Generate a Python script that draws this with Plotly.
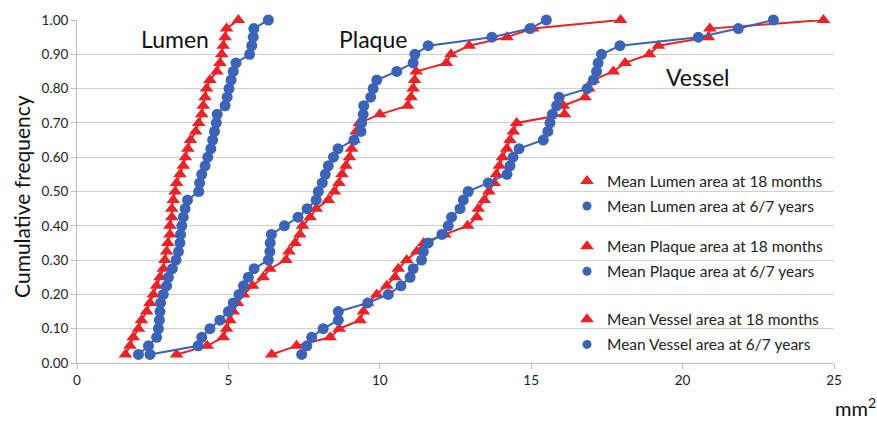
import plotly.graph_objects as go

# cumulative frequency levels
cum_freq = [0.025, 0.05, 0.075, 0.1, 0.125, 0.15, 0.175, 0.2, 0.225, 0.25,
            0.275, 0.3, 0.325, 0.35, 0.375, 0.4, 0.425, 0.45, 0.475, 0.5,
            0.525, 0.55, 0.575, 0.6, 0.625, 0.65, 0.675, 0.7, 0.725, 0.75,
            0.775, 0.8, 0.825, 0.85, 0.875, 0.9, 0.925, 0.95, 0.975, 1.0]

lumen_18m = [1.60, 1.75, 1.86, 2.03, 2.13, 2.30, 2.41, 2.52, 2.63, 2.74,
             2.85, 2.90, 2.96, 3.00, 3.07, 3.07, 3.13, 3.13, 3.18, 3.24,
             3.29, 3.40, 3.51, 3.58, 3.66, 3.75, 3.92, 4.02, 4.12, 4.17,
             4.23, 4.28, 4.39, 4.62, 4.72, 4.78, 4.83, 4.89, 4.94, 5.33]

lumen_6y = [2.03, 2.36, 2.63, 2.69, 2.72, 2.74, 2.76, 2.85, 2.96, 3.02,
            3.15, 3.27, 3.35, 3.40, 3.42, 3.46, 3.51, 3.57, 3.65, 4.02,
            4.05, 4.12, 4.23, 4.32, 4.42, 4.48, 4.54, 4.60, 4.63, 4.89,
            4.96, 5.02, 5.09, 5.16, 5.25, 5.70, 5.77, 5.82, 5.84, 6.32]

plaque_18m = [3.29, 4.30, 4.83, 4.94, 5.05, 5.16, 5.30, 5.50, 5.80, 6.15,
              6.37, 6.90, 7.00, 7.20, 7.36, 7.45, 7.70, 7.90, 8.30, 8.50,
              8.65, 8.75, 8.88, 9.00, 9.07, 9.15, 9.22, 9.33, 10.00, 10.92,
              11.03, 11.10, 11.15, 11.20, 12.20, 12.35, 12.95, 14.20, 15.05, 17.95]

plaque_6y = [2.41, 4.00, 4.12, 4.39, 4.72, 5.00, 5.16, 5.35, 5.50, 5.66,
             5.85, 6.32, 6.37, 6.38, 6.42, 6.85, 7.30, 7.60, 7.90, 7.97,
             8.10, 8.20, 8.30, 8.47, 8.62, 9.15, 9.38, 9.40, 9.45, 9.47,
             9.70, 9.78, 9.90, 10.56, 11.10, 11.16, 11.60, 13.70, 14.96, 15.50]

vessel_18m = [6.43, 7.25, 8.36, 8.66, 9.35, 9.46, 9.60, 9.90, 10.23, 10.50,
              10.61, 10.89, 11.22, 11.45, 12.15, 12.90, 13.20, 13.25, 13.45, 13.60,
              13.78, 13.85, 13.95, 14.05, 14.19, 14.30, 14.41, 14.52, 16.10, 16.06,
              16.78, 16.90, 17.05, 17.71, 18.10, 18.90, 19.20, 20.85, 20.90, 24.65]

vessel_6y = [7.42, 7.59, 7.75, 8.13, 8.63, 8.63, 9.60, 10.28, 10.70, 11.00,
             11.10, 11.38, 11.44, 11.60, 12.05, 12.26, 12.37, 12.65, 12.76, 12.92,
             13.58, 14.20, 14.30, 14.40, 14.60, 15.40, 15.55, 15.62, 15.70, 15.84,
             15.92, 16.85, 17.05, 17.16, 17.21, 17.32, 17.93, 20.52, 21.84, 23.00]

series_names = ["Mean Lumen area at 18 months", "Mean Lumen area at 6/7 years",
                "Mean Plaque area at 18 months", "Mean Plaque area at 6/7 years",
                "Mean Vessel area at 18 months", "Mean Vessel area at 6/7 years"]

x_ticks = [0, 5, 10, 15, 20, 25]
y_ticks = [0.0, 0.1, 0.2, 0.3, 0.4, 0.5, 0.6, 0.7, 0.8, 0.9, 1.0]

RED = "#ec2227"
BLUE = "#3b63b8"
FONT = "Lato, 'Open Sans', sans-serif"

series = [lumen_18m, lumen_6y, plaque_18m, plaque_6y, vessel_18m, vessel_6y]
legends = ["legend", "legend", "legend2", "legend2", "legend3", "legend3"]

fig = go.Figure()
for i, xs in enumerate(series):
    red = i % 2 == 0
    col = RED if red else BLUE
    sym = "triangle-up" if red else "circle"
    fig.add_trace(go.Scatter(
        x=xs, y=cum_freq, mode="lines+markers",
        line=dict(color=col, width=2),
        marker=dict(color=col, symbol=sym, size=12 if red else 11),
        showlegend=False, cliponaxis=False, hoverinfo="skip"))
for i, name in enumerate(series_names):
    red = i % 2 == 0
    col = RED if red else BLUE
    sym = "triangle-up" if red else "circle"
    fig.add_trace(go.Scatter(
        x=[None], y=[None], mode="markers", name=name,
        marker=dict(color=col, symbol=sym, size=12 if red else 9),
        legend=legends[i], legendgroup=name, showlegend=True))

leg_common = dict(bgcolor="rgba(0,0,0,0)", font=dict(family=FONT, size=15.5, color="#222"),
                  traceorder="grouped", tracegroupgap=2, xanchor="left", yanchor="top",
                  itemwidth=30)

W, H = 877 - 77 - 43, 421 - 16 - 58

fig.update_layout(
    width=877, height=421,
    margin=dict(l=77, r=43, t=16, b=58),
    paper_bgcolor="white", plot_bgcolor="white",
    font=dict(family=FONT, size=12, color="#222"),
    xaxis=dict(range=[0, 25], tickvals=x_ticks, ticktext=[str(v) for v in x_ticks],
               showgrid=False, zeroline=False, showline=True, linecolor="#bdbdbd",
               linewidth=1, ticks="outside", ticklen=5, tickcolor="#bdbdbd",
               tickfont=dict(size=13.5, family=FONT, color="#222")),
    yaxis=dict(range=[0, 1.0], tickvals=y_ticks, ticktext=[f"{v:.2f}" for v in y_ticks],
               showgrid=True, gridcolor="#d0d0d0", gridwidth=1.2, zeroline=False,
               showline=True, linecolor="#bdbdbd", linewidth=1,
               ticks="outside", ticklen=5, tickcolor="#bdbdbd",
               tickfont=dict(size=13.5, family=FONT, color="#222")),
    legend=dict(x=(567 - 77) / W, y=(363 - 162) / H, **leg_common),
    legend2=dict(x=(567 - 77) / W, y=(363 - 228) / H, **leg_common),
    legend3=dict(x=(567 - 77) / W, y=(363 - 302) / H, **leg_common),
    showlegend=True,
)

ann = dict(showarrow=False, font=dict(family=FONT, size=23, color="#111"))
fig.add_annotation(x=3.24, y=0.945, xref="x", yref="y", text="Lumen", **ann)
fig.add_annotation(x=9.78, y=0.945, xref="x", yref="y", text="Plaque", **ann)
fig.add_annotation(x=20.5, y=0.835, xref="x", yref="y", text="Vessel", **ann)
fig.add_annotation(x=(22 - 77) / W, y=(363 - 195) / H, xref="paper", yref="paper",
                   xanchor="center", yanchor="middle",
                   text="Cumulative frequency", textangle=-90, showarrow=False,
                   font=dict(family=FONT, size=21, color="#111"))
fig.add_annotation(x=(855 - 77) / W, y=(363 - 408) / H, xref="paper", yref="paper",
                   xanchor="center", yanchor="middle",
                   text="mm<sup>2</sup>", showarrow=False,
                   font=dict(family=FONT, size=20, color="#111"))

fig.write_html("out.html", config={"displayModeBar": False},
               post_script="document.body.style.margin='0px';")
